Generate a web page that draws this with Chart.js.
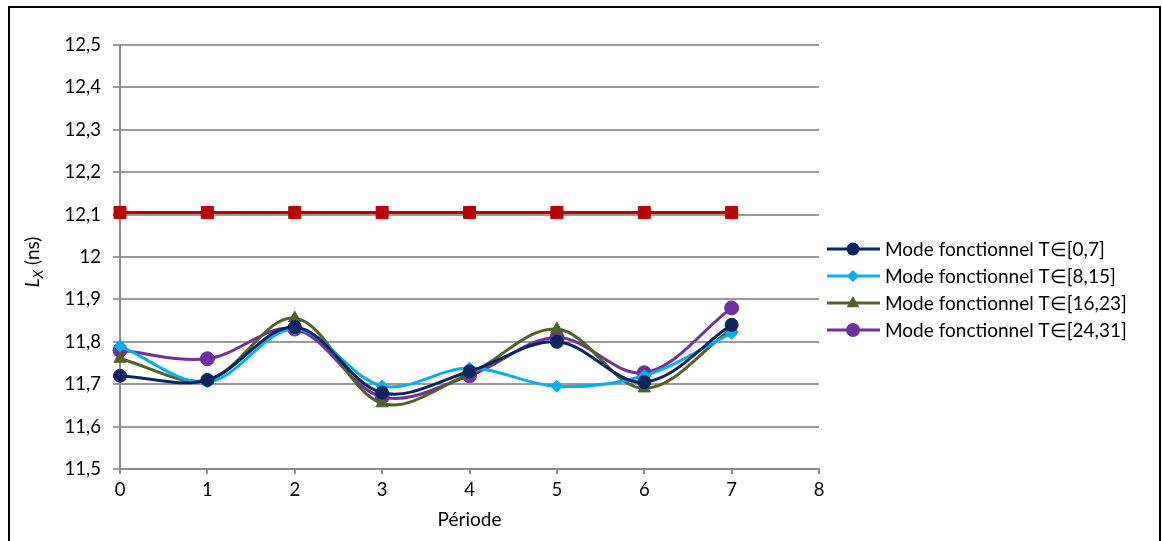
<!DOCTYPE html>
<html>
<head>
<meta charset="utf-8">
<script src="https://cdn.jsdelivr.net/npm/chart.js@4/dist/chart.umd.min.js"></script>
<style>
  html, body { margin: 0; padding: 0; background: #fff; }
  #wrap { width: 1162px; height: 541px; }
</style>
</head>
<body>
<div id="wrap"><canvas id="lxChart" width="1162" height="541"></canvas></div>
<script>
// périodes (axe X)
const periods = [0, 1, 2, 3, 4, 5, 6, 7];
// ligne rouge (hors légende)
const reference = [12.105, 12.105, 12.105, 12.105, 12.105, 12.105, 12.105, 12.105];
// modes fonctionnels
const modeT0_7   = [11.72, 11.71, 11.835, 11.68, 11.73, 11.80, 11.705, 11.84];
const modeT8_15  = [11.79, 11.705, 11.83, 11.696, 11.738, 11.695, 11.72, 11.82];
const modeT16_23 = [11.76, 11.71, 11.856, 11.655, 11.725, 11.83, 11.69, 11.83];
const modeT24_31 = [11.78, 11.76, 11.83, 11.67, 11.72, 11.81, 11.727, 11.88];
const seriesLabels = [
    "Mode fonctionnel T\u2208[0,7]",
    "Mode fonctionnel T\u2208[8,15]",
    "Mode fonctionnel T\u2208[16,23]",
    "Mode fonctionnel T\u2208[24,31]"
];

const FONT = "Lato, 'Open Sans', sans-serif";
const toPoints = vals => periods.map((p, i) => ({ x: p, y: vals[i] }));

function mkSet(label, vals, color, style, radius, inLegend) {
    return {
        label: label,
        data: toPoints(vals),
        borderColor: color,
        backgroundColor: color,
        borderWidth: 3,
        pointStyle: style,
        pointRadius: radius,
        pointHoverRadius: radius,
        pointBorderWidth: 1,
        tension: 0.35,
        clip: false,
        inLegend: inLegend
    };
}

const datasets = [
    mkSet("Référence", reference, "#c00000", "rect", 8.5, false),
    mkSet(seriesLabels[0], modeT0_7, "#0c2461", "circle", 6.5, true),
    mkSet(seriesLabels[1], modeT8_15, "#00b0f0", "rectRot", 6, true),
    mkSet(seriesLabels[2], modeT16_23, "#4f6228", "triangle", 7, true),
    mkSet(seriesLabels[3], modeT24_31, "#7030a0", "circle", 7, true)
];

// cadre + titre de l'axe Y + légende dessinés à la main
const decor = {
    id: "decor",
    beforeDraw(chart) {
        const ctx = chart.ctx;
        ctx.save();
        ctx.strokeStyle = "#000";
        ctx.lineWidth = 2;
        ctx.strokeRect(9, 7, 1151, 545);
        ctx.restore();
    },
    afterDraw(chart) {
        const ctx = chart.ctx;
        const area = chart.chartArea;
        // titre Y : L_X (ns)
        ctx.save();
        ctx.translate(33, 262);
        ctx.rotate(-Math.PI / 2);
        ctx.fillStyle = "#000";
        ctx.textBaseline = "middle";
        ctx.font = "italic 19px " + FONT;
        const wL = ctx.measureText("L").width;
        ctx.font = "italic 14px " + FONT;
        const wX = ctx.measureText("X").width;
        ctx.font = "19px " + FONT;
        const wR = ctx.measureText(" (ns)").width;
        let x0 = -(wL + wX + wR) / 2;
        ctx.font = "italic 19px " + FONT;
        ctx.fillText("L", x0, 0);
        ctx.font = "italic 14px " + FONT;
        ctx.fillText("X", x0 + wL, 5);
        ctx.font = "19px " + FONT;
        ctx.fillText(" (ns)", x0 + wL + wX, 0);
        ctx.restore();

        // légende
        const items = chart.data.datasets.filter(d => d.inLegend);
        const lx = area.right + 8;
        let ly = 249;
        ctx.save();
        items.forEach(d => {
            ctx.strokeStyle = d.borderColor;
            ctx.fillStyle = d.backgroundColor;
            ctx.lineWidth = 3;
            ctx.beginPath();
            ctx.moveTo(lx, ly);
            ctx.lineTo(lx + 53, ly);
            ctx.stroke();
            const cx = lx + 26, r = d.pointRadius;
            ctx.beginPath();
            if (d.pointStyle === "circle") {
                ctx.arc(cx, ly, r, 0, Math.PI * 2);
            } else if (d.pointStyle === "rectRot") {
                ctx.moveTo(cx, ly - r); ctx.lineTo(cx + r, ly);
                ctx.lineTo(cx, ly + r); ctx.lineTo(cx - r, ly);
            } else if (d.pointStyle === "triangle") {
                ctx.moveTo(cx, ly - r); ctx.lineTo(cx + r * 0.9, ly + r * 0.6);
                ctx.lineTo(cx - r * 0.9, ly + r * 0.6);
            }
            ctx.closePath();
            ctx.fill();
            ctx.fillStyle = "#000";
            ctx.font = "19px " + FONT;
            ctx.textBaseline = "middle";
            ctx.fillText(d.label, lx + 58, ly + 1);
            ly += 27;
        });
        ctx.restore();
    }
};

const ctx = document.getElementById("lxChart").getContext("2d");
new Chart(ctx, {
    type: "line",
    data: { datasets: datasets },
    options: {
        responsive: false,
        animation: false,
        layout: { padding: { left: 0, top: 45, right: 343, bottom: 0 } },
        plugins: {
            legend: { display: false },
            tooltip: { enabled: false }
        },
        scales: {
            x: {
                type: "linear",
                min: 0,
                max: 8,
                ticks: { stepSize: 1, color: "#000", font: { family: FONT, size: 18.5 }, padding: 5 },
                grid: { display: true, drawOnChartArea: false, drawTicks: true, tickLength: 5, color: "#8c8c8c", lineWidth: 2 },
                border: { color: "#8c8c8c", width: 2 },
                title: { display: true, text: "Période", color: "#000", font: { family: FONT, size: 19 }, padding: { top: 0, bottom: 10 } },
                afterFit: s => { s.height = 72; }
            },
            y: {
                min: 11.5,
                max: 12.5,
                ticks: {
                    stepSize: 0.1,
                    color: "#000",
                    font: { family: FONT, size: 18.5 },
                    padding: 12,
                    callback: v => String(Number(v.toFixed(1))).replace(".", ",")
                },
                grid: { color: "#9a9a9a", lineWidth: 2, tickLength: 7 },
                border: { color: "#8c8c8c", width: 2 },
                afterFit: s => { s.width = 120; }
            }
        }
    },
    plugins: [decor]
});
</script>
</body>
</html>
